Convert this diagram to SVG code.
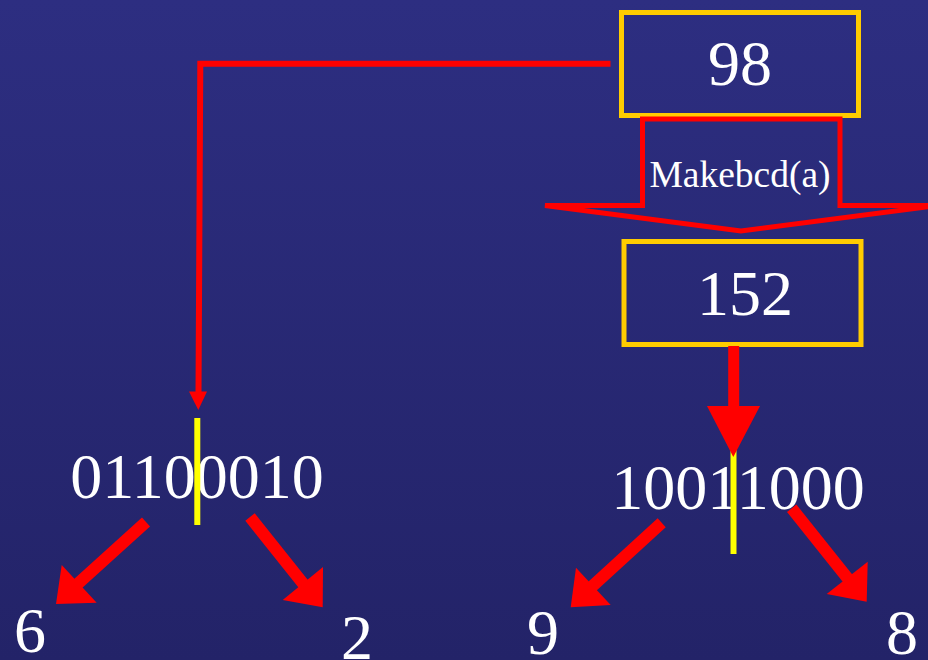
<svg xmlns="http://www.w3.org/2000/svg" width="928" height="660" viewBox="0 0 928 660">
  <defs>
    <linearGradient id="bg" x1="0" y1="0" x2="0" y2="1">
      <stop offset="0" stop-color="#2d2e81"/>
      <stop offset="1" stop-color="#232368"/>
    </linearGradient>
  </defs>
  <style>
    .box { fill: none; stroke: #ffcc00; stroke-width: 5; }
    .num { font-family: "Liberation Serif", "Times New Roman", serif; fill: #ffffff; text-anchor: middle; }
    .big { font-size: 64px; }
    .small { font-size: 37.5px; }
    .wire { fill: none; stroke: #ff0000; stroke-width: 6; }
    .fat { fill: none; stroke: #ff0000; stroke-width: 12; }
    .head { fill: #ff0000; }
    .split { stroke: #ffff00; stroke-width: 6; }
  </style>

  <rect width="928" height="660" fill="url(#bg)"/>

  <!-- value boxes -->
  <g id="n98">
    <rect class="box" x="621.5" y="12.5" width="237" height="103"/>
    <text class="num big" x="740" y="85">98</text>
  </g>

  <g id="makebcd">
    <path d="M642.5,205.5 L642.5,119 L840,119 L840,205.5 L937,205.5 L741,231 L545,205.5 Z" fill="none" stroke="#ff0000" stroke-width="5"/>
    <text class="num small" x="740" y="187">Makebcd(a)</text>
  </g>

  <g id="n152">
    <rect class="box" x="624" y="241.5" width="237" height="103"/>
    <text class="num big" x="745" y="315">152</text>
  </g>

  <!-- binary forms -->
  <g id="bin98">
    <text class="num big" x="197" y="498">01100010</text>
    <line class="split" x1="197.3" y1="418" x2="197.3" y2="525"/>
  </g>

  <g id="bin152">
    <text class="num big" x="738" y="509">10011000</text>
    <line class="split" x1="733.5" y1="450" x2="733.5" y2="554"/>
  </g>

  <!-- resulting digits -->
  <g id="d6"><text class="num big" x="30" y="652">6</text></g>
  <g id="d2"><text class="num big" x="357" y="659">2</text></g>
  <g id="d9"><text class="num big" x="543" y="654">9</text></g>
  <g id="d8"><text class="num big" x="902" y="654">8</text></g>

  <!-- connectors -->
  <g id="connectors">
    <path class="wire" d="M610.5,63.7 L200.3,63.7 L198.5,393"/>
    <polygon class="head" points="189,391.5 207,391.5 198.3,410"/>

    <line x1="733.7" y1="346" x2="733.7" y2="408" stroke="#ff0000" stroke-width="11"/>
    <polygon class="head" points="707,406 760,406 733.3,457"/>

    <!-- 01100010 -> 6 and 2 -->
    <line class="fat" x1="146" y1="522" x2="72" y2="589"/>
    <polygon class="head" points="61.7,565 96.7,602.7 56,604"/>
    <line class="fat" x1="250" y1="517" x2="309" y2="591"/>
    <polygon class="head" points="323,567 282.7,600 322.7,607.3"/>

    <!-- 10011000 -> 9 and 8 -->
    <line class="fat" x1="661.7" y1="522.7" x2="586" y2="592"/>
    <polygon class="head" points="576,567.7 610.7,605 570.7,607.3"/>
    <line class="fat" x1="791.7" y1="508.3" x2="853" y2="585"/>
    <polygon class="head" points="867.7,561.7 826.7,594 866.7,601.7"/>
  </g>
</svg>
